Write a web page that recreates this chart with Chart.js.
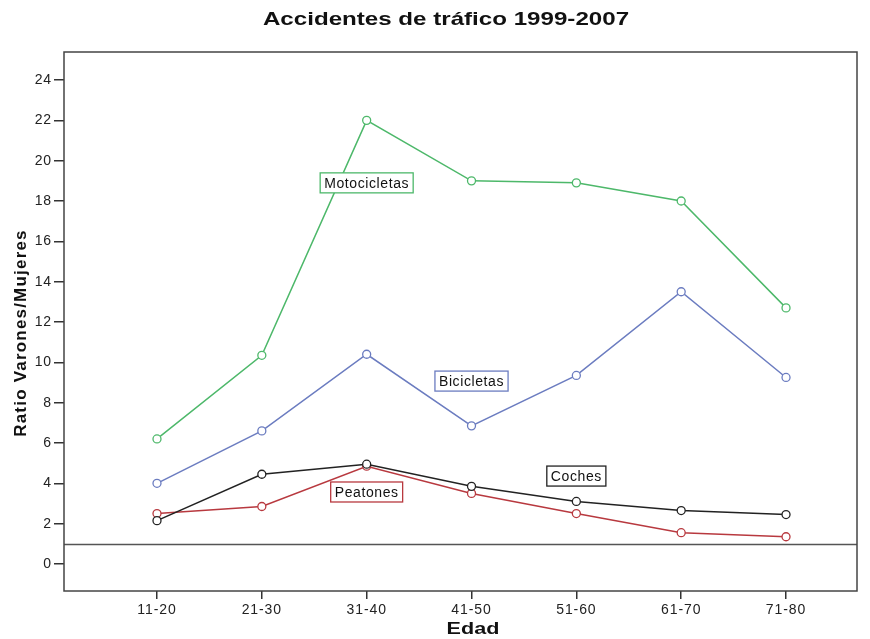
<!DOCTYPE html>
<html>
<head>
<meta charset="utf-8">
<script src="https://cdn.jsdelivr.net/npm/chart.js@4"></script>
<style>
  body { margin: 0; background: #fff; }
  #wrap { width: 870px; height: 639px; }
</style>
</head>
<body>
<div id="wrap"><canvas id="myChart"></canvas></div>
<script>
// chart data
var edades = ["11-20", "21-30", "31-40", "41-50", "51-60", "61-70", "71-80"];
var motocicletas = [6.2, 10.35, 22.0, 19.0, 18.9, 18.0, 12.7];
var bicicletas = [4.0, 6.6, 10.4, 6.85, 9.35, 13.5, 9.25];
var coches = [2.15, 4.45, 4.95, 3.85, 3.1, 2.65, 2.45];
var peatones = [2.5, 2.85, 4.85, 3.5, 2.5, 1.55, 1.35];
var yTicks = [0, 2, 4, 6, 8, 10, 12, 14, 16, 18, 20, 22, 24];
var refLine = 1;

var FONT = "Arial, 'Liberation Sans', sans-serif";

function serie(label, values, color) {
    return {
        label: label,
        data: values.map((v, i) => ({ x: i, y: v })),
        borderColor: color,
        backgroundColor: "#fff",
        borderWidth: 1.5,
        pointRadius: 4,
        pointBorderWidth: 1.3,
        pointBackgroundColor: "#fff",
        pointBorderColor: color,
        tension: 0
    };
}

// labels are placed at data coordinates (x index, y value)
var etiquetas = [
    { text: "Motocicletas", x: 2.0, y: 18.9, color: "#4db86a" },
    { text: "Bicicletas", x: 3.0, y: 9.07, color: "#6b7cc0" },
    { text: "Coches", x: 4.0, y: 4.36, color: "#222" },
    { text: "Peatones", x: 2.0, y: 3.57, color: "#b8393f" }
];

// draws text stretched sideways, the way the original export looks
function wideText(ctx, text, x, y, sx) {
    ctx.save();
    ctx.translate(x, y);
    ctx.scale(sx, 1);
    ctx.fillText(text, 0, 0);
    ctx.restore();
}

var extras = {
    id: "extras",
    beforeDraw(chart) {
        chart.ctx.letterSpacing = "0.9px";
    },
    beforeDatasetsDraw(chart) {
        const ctx = chart.ctx, a = chart.chartArea, y = chart.scales.y;
        ctx.save();
        ctx.strokeStyle = "#555";
        ctx.lineWidth = 1.3;
        const py = Math.round(y.getPixelForValue(refLine)) + 0.5;
        ctx.beginPath();
        ctx.moveTo(a.left, py);
        ctx.lineTo(a.right, py);
        ctx.stroke();
        ctx.restore();
    },
    afterDatasetsDraw(chart) {
        const ctx = chart.ctx, a = chart.chartArea;
        const xs = chart.scales.x, ys = chart.scales.y;
        ctx.save();
        // plot frame
        ctx.strokeStyle = "#444";
        ctx.lineWidth = 1.5;
        ctx.strokeRect(a.left, a.top, a.right - a.left, a.bottom - a.top);
        // boxed series labels
        ctx.font = "14px " + FONT;
        ctx.letterSpacing = "0.6px";
        ctx.textAlign = "center";
        ctx.textBaseline = "middle";
        etiquetas.forEach(e => {
            const px = xs.getPixelForValue(e.x), py = ys.getPixelForValue(e.y);
            const w = ctx.measureText(e.text).width + 8, h = 20;
            ctx.fillStyle = "#fff";
            ctx.fillRect(px - w / 2, py - h / 2, w, h);
            ctx.strokeStyle = e.color;
            ctx.lineWidth = 1.3;
            ctx.strokeRect(px - w / 2, py - h / 2, w, h);
            ctx.fillStyle = "#111";
            ctx.fillText(e.text, px, py + 1);
        });
        // titles
        ctx.fillStyle = "#111";
        ctx.letterSpacing = "0px";
        ctx.font = "bold 19px " + FONT;
        wideText(ctx, "Accidentes de tráfico 1999-2007", 446, 20, 1.27);
        ctx.font = "bold 17px " + FONT;
        wideText(ctx, "Edad", 473, 629, 1.27);
        ctx.translate(21, 333);
        ctx.rotate(-Math.PI / 2);
        ctx.font = "bold 17px " + FONT;
        ctx.letterSpacing = "1.2px";
        ctx.fillText("Ratio Varones/Mujeres", 0, 0);
        ctx.restore();
    }
};

new Chart("myChart", {
    type: "line",
    data: {
        datasets: [
            serie("Motocicletas", motocicletas, "#4db86a"),
            serie("Bicicletas", bicicletas, "#6b7cc0"),
            serie("Coches", coches, "#222"),
            serie("Peatones", peatones, "#b8393f")
        ]
    },
    options: {
        responsive: true,
        maintainAspectRatio: false,
        animation: false,
        layout: { padding: { top: 52, right: 13, bottom: 0, left: 0 } },
        plugins: {
            legend: { display: false },
            tooltip: { enabled: false },
            title: { display: false }
        },
        scales: {
            x: {
                type: "linear",
                min: -0.887,
                max: 6.677,
                afterFit: s => { s.height = 48; },
                afterBuildTicks: s => { s.ticks = edades.map((e, i) => ({ value: i })); },
                ticks: {
                    callback: v => edades[v],
                    font: { size: 14, family: FONT },
                    color: "#222",
                    padding: 3,
                    maxRotation: 0
                },
                grid: { display: true, drawOnChartArea: false, drawTicks: true, tickLength: 8, color: "#333", lineWidth: 1.5 },
                border: { display: false }
            },
            y: {
                min: -1.34,
                max: 25.39,
                afterFit: s => { s.width = 64; },
                afterBuildTicks: s => { s.ticks = yTicks.map(v => ({ value: v })); },
                ticks: {
                    font: { size: 14, family: FONT },
                    color: "#222",
                    padding: 2
                },
                grid: { display: true, drawOnChartArea: false, drawTicks: true, tickLength: 10, color: "#333", lineWidth: 1.5 },
                border: { display: false }
            }
        }
    },
    plugins: [extras]
});
</script>
</body>
</html>
